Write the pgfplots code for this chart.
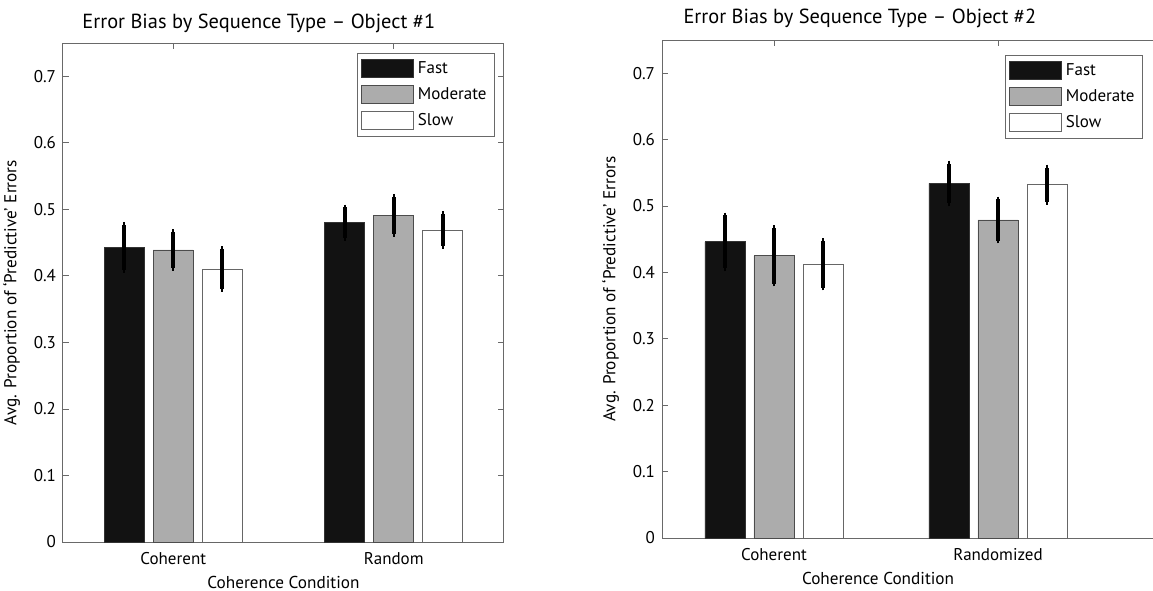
\documentclass[border=0pt]{standalone}
\usepackage{fontspec}
\setmainfont{PT Sans}
\usepackage{pgfplots}
\usepackage{pgfplotstable}
\pgfplotsset{compat=1.18}

\definecolor{fastc}{RGB}{18,18,18}
\definecolor{modc}{RGB}{172,172,172}
\definecolor{axc}{RGB}{105,105,105}

% x = condition (1 coherent, 2 random), value and error half-width per speed
\pgfplotstableread{
x fast fe mod me slow se
1 0.443 0.034 0.439 0.027 0.410 0.030
2 0.480 0.023 0.491 0.028 0.469 0.024
}\objone
\pgfplotstableread{
x fast fe mod me slow se
1 0.446 0.040 0.425 0.042 0.412 0.035
2 0.534 0.030 0.479 0.031 0.532 0.026
}\objtwo

\pgfplotsset{
  common/.style={
    scale only axis,
    ybar=4.5pt, bar width=20pt,
    ymin=0, ymax=0.75, xmin=0.5,
    xtick={1,2},
    ytick={0,0.1,0.2,0.3,0.4,0.5,0.6,0.7},
    yticklabel style={/pgf/number format/fixed},
    /pgf/number format/assume math mode=true,
    tick align=inside, major tick length=3pt,
    tick style={axc, line width=0.4pt},
    axis line style={axc, line width=0.5pt},
    tick label style={font=\fontsize{8.5}{10}\selectfont},
    xticklabel style={yshift=-1.5pt},
    label style={font=\fontsize{8.6}{10}\selectfont},
    title style={font=\fontsize{10.2}{12}\selectfont},
    ylabel={Avg. Proportion of ‘Predictive’ Errors},
    xlabel={Coherence Condition},
    xlabel style={yshift=1pt},
    legend cell align=left,
    legend style={draw=axc, line width=0.4pt, font=\fontsize{8.5}{10}\selectfont,
      anchor=north east, row sep=1.5pt, inner sep=2pt},
    every axis plot post/.append style={
      legend image code/.code={\draw[##1] (0pt,-4.5pt) rectangle (26pt,4.5pt);}},
    error bars/error bar style={line width=2pt, black},
    error bars/error mark options={black, line width=1pt, mark size=1.4pt},
  },
}

\begin{document}
\begin{tikzpicture}
\useasboundingbox (0,0) rectangle (576.5pt,295pt);

\begin{axis}[common,
  at={(31.5pt,24pt)}, anchor=south west,
  width=220.5pt, height=249.5pt, xmax=2.5,
  xticklabels={Coherent,Random},
  title={Error Bias by Sequence Type – Object \#1},
  title style={at={(0.444,1)}, anchor=center, yshift=4pt},
  legend style={at={(1,1)}, xshift=-4.5pt, yshift=-5pt},
]
\addplot[fill=fastc, draw=black!80, line width=0.4pt,
  error bars/.cd, y dir=both, y explicit]
  table[x=x, y=fast, y error=fe] {\objone};
\addplot[fill=modc, draw=black!70, line width=0.4pt,
  error bars/.cd, y dir=both, y explicit]
  table[x=x, y=mod, y error=me] {\objone};
\addplot[fill=white, draw=black!60, line width=0.4pt,
  error bars/.cd, y dir=both, y explicit]
  table[x=x, y=slow, y error=se] {\objone};
\legend{Fast,Moderate,Slow}
\end{axis}

\begin{axis}[common,
  at={(331pt,26pt)}, anchor=south west,
  width=245.5pt, height=249pt, xmax=2.692,
  axis x line*=box, axis y line*=left,
  xticklabels={Coherent,Randomized},
  title={Error Bias by Sequence Type – Object \#2},
  title style={at={(0.403,1)}, anchor=center, yshift=5pt},
  xlabel style={at={(ticklabel cs:0.44)}},
  legend style={at={(1,1)}, xshift=-5pt, yshift=-7.5pt},
]
\addplot[fill=fastc, draw=black!80, line width=0.4pt,
  error bars/.cd, y dir=both, y explicit]
  table[x=x, y=fast, y error=fe] {\objtwo};
\addplot[fill=modc, draw=black!70, line width=0.4pt,
  error bars/.cd, y dir=both, y explicit]
  table[x=x, y=mod, y error=me] {\objtwo};
\addplot[fill=white, draw=black!60, line width=0.4pt,
  error bars/.cd, y dir=both, y explicit]
  table[x=x, y=slow, y error=se] {\objtwo};
\legend{Fast,Moderate,Slow}
\end{axis}
\end{tikzpicture}
\end{document}
